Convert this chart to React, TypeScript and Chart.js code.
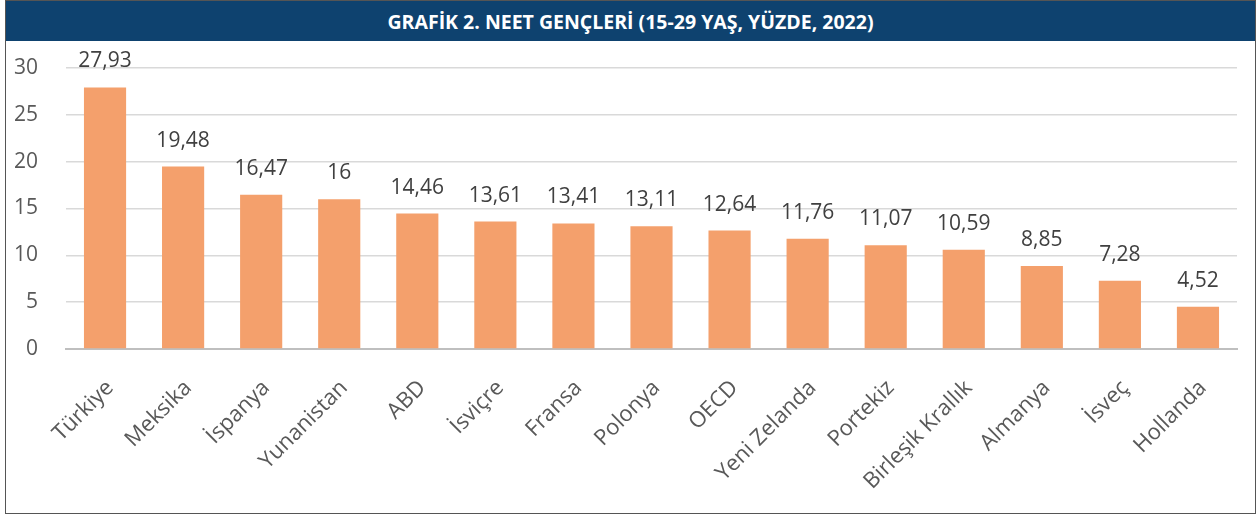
import React, { useEffect, useRef } from "react";
import { Chart, registerables } from "chart.js";

Chart.register(...registerables);

const TITLE = "GRAFİK 2. NEET GENÇLERİ (15-29 YAŞ, YÜZDE, 2022)";
const categories = ["Türkiye", "Meksika", "İspanya", "Yunanistan", "ABD", "İsviçre", "Fransa", "Polonya", "OECD", "Yeni Zelanda", "Portekiz", "Birleşik Krallık", "Almanya", "İsveç", "Hollanda"];
const values = [27.93, 19.48, 16.47, 16, 14.46, 13.61, 13.41, 13.11, 12.64, 11.76, 11.07, 10.59, 8.85, 7.28, 4.52];
const yTicks = [0, 5, 10, 15, 20, 25, 30];

const fmt = (v: number) => String(v).replace(".", ",");

const FONT = "'Open Sans', sans-serif";

const valueLabels = {
  id: "valueLabels",
  afterDatasetsDraw(chart: any) {
    const ctx = chart.ctx;
    const meta = chart.getDatasetMeta(0);
    ctx.save();
    ctx.font = `21px ${FONT}`;
    ctx.fillStyle = "#404040";
    ctx.textAlign = "center";
    ctx.textBaseline = "middle";
    meta.data.forEach((bar: any, i: number) => {
      ctx.fillText(fmt(values[i]), bar.x, bar.y - 26);
    });
    ctx.restore();
  },
};

export default function App() {
  const ref = useRef<HTMLCanvasElement>(null);
  useEffect(() => {
    if (!ref.current) return;
    const chart = new Chart(ref.current, {
      type: "bar",
      data: {
        labels: categories,
        datasets: [
          {
            data: values,
            backgroundColor: "#F4A06C",
            barPercentage: 0.54,
            categoryPercentage: 1,
          },
        ],
      },
      options: {
        animation: false,
        responsive: false,
        maintainAspectRatio: false,
        layout: { padding: { top: 27, right: 18, left: 0, bottom: 0 } },
        plugins: { legend: { display: false }, tooltip: { enabled: false } },
        scales: {
          x: {
            grid: { display: false, drawTicks: false },
            border: { display: true, color: "#BFBFBF", width: 2 },
            ticks: {
              color: "#595959",
              font: { family: FONT, size: 22 },
              minRotation: 45,
              maxRotation: 45,
              autoSkip: false,
              padding: 26,
              labelOffset: 5,
            },
            afterFit: (s: any) => {
              s.height = 164;
            },
          },
          y: {
            min: 0,
            max: 30,
            afterBuildTicks: (s: any) => {
              s.ticks = yTicks.map((v) => ({ value: v }));
            },
            grid: { color: "#D9D9D9", lineWidth: 1.5, drawTicks: false },
            border: { display: false },
            ticks: {
              color: "#595959",
              font: { family: FONT, size: 21 },
              padding: 28,
            },
            afterFit: (s: any) => {
              s.width = 60;
              s.paddingTop = 0;
              s.paddingBottom = 0;
            },
          },
        },
      },
      plugins: [valueLabels],
    });
    return () => chart.destroy();
  }, []);

  return (
    <div
      style={{
        position: "absolute",
        left: 5,
        top: 0,
        width: 1251,
        height: 514,
        boxSizing: "border-box",
        border: "1px solid #555",
        background: "#fff",
      }}
    >
      <div
        style={{
          height: 40,
          background: "#0E426F",
          color: "#fff",
          fontFamily: FONT,
          fontWeight: 700,
          fontSize: 19.5,
          display: "flex",
          alignItems: "center",
          justifyContent: "center",
        }}
      >
        {TITLE}
      </div>
      <canvas ref={ref} width={1249} height={472} style={{ display: "block" }} />
    </div>
  );
}
